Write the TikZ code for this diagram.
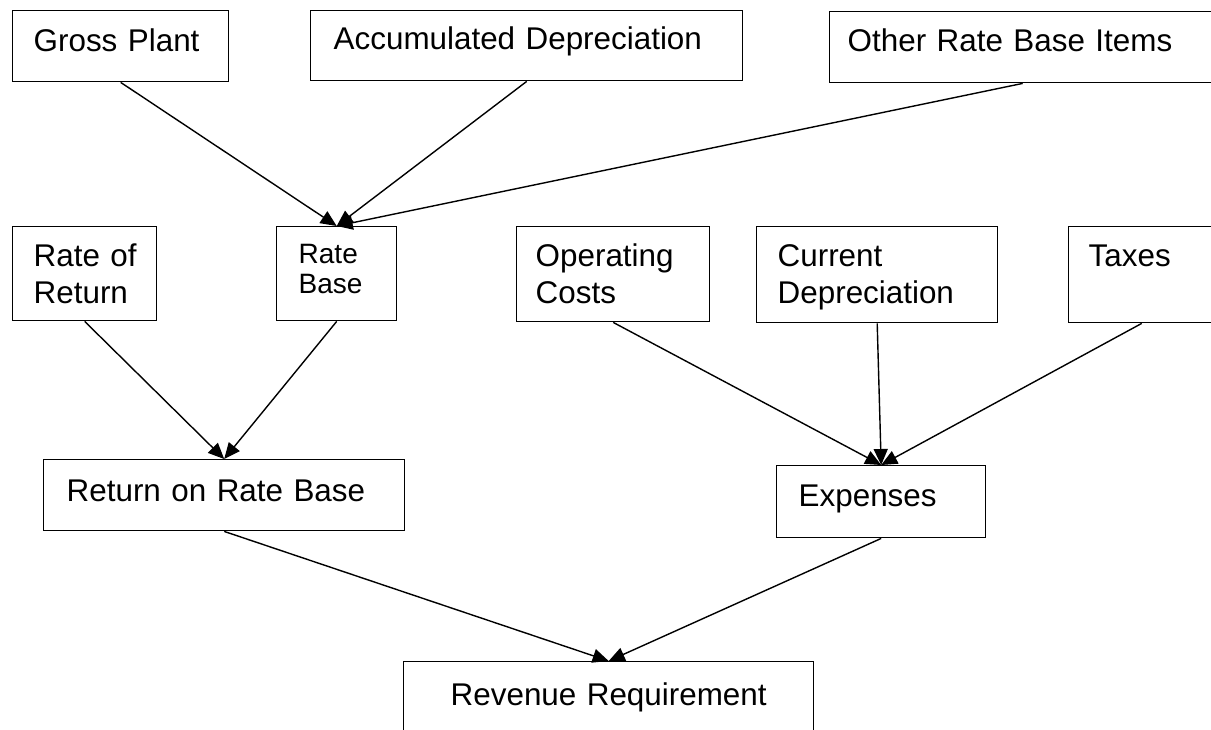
\documentclass[tikz,border=0pt]{standalone}
\usepackage{fontspec}
\setmainfont{Liberation Sans}
\usetikzlibrary{arrows.meta}

\begin{document}
\begin{tikzpicture}[
  x=1pt, y=-1pt,
  box/.style={
    draw,
    line width=1.4pt,
    anchor=north west,
    align=left,
    inner ysep=0pt,
    font=\fontsize{31.4}{37.5}\selectfont
  },
  small/.style={font=\fontsize{28}{30}\selectfont},
  line/.style={draw, line width=1.4pt, -{Triangle[length=16pt,width=14pt]}}
]
\clip (0,0) rectangle (1211,729);

\node[box, text width=174pt, inner xsep=21pt, text height=40.5pt, text depth=30.5pt] (gross) at (12,10) {Gross Plant};
\node[box, text width=386pt, inner xsep=23pt, text height=38.5pt, text depth=31.5pt] (accum) at (310,10) {Accumulated Depreciation};
\node[box, text width=350pt, inner xsep=18pt, text height=39.5pt, text depth=31.5pt] (other) at (829,11) {Other Rate Base Items};

\node[box, text width=102pt, inner xsep=21pt, text height=39.5pt, text depth=54.5pt] (ror) at (12,226) {Rate~of\\Return};
\node[box, small, text width=76pt, inner xsep=22pt, text height=37pt, text depth=57pt] (ratebase) at (276,226) {Rate\\Base};
\node[box, text width=155pt, inner xsep=19pt, text height=39.5pt, text depth=55.5pt] (opcost) at (516,226) {Operating\\Costs};
\node[box, text width=199pt, inner xsep=21pt, text height=39.5pt, text depth=56.5pt] (curdep) at (756,226) {Current\\Depreciation};
\node[box, text width=106pt, inner xsep=20pt, text height=39.5pt, text depth=56.5pt] (taxes) at (1068,226) {Taxes};

\node[box, text width=315pt, inner xsep=23pt, text height=41.5pt, text depth=29.5pt] (return) at (43,459) {Return on Rate Base};
\node[box, text width=165pt, inner xsep=22pt, text height=40.5pt, text depth=31.5pt] (expenses) at (776,465) {Expenses};

\node[box, align=center, text width=370pt, inner xsep=20pt, text height=43.5pt, text depth=56.5pt] (revenue) at (403,661) {Revenue Requirement};

\draw[line] (gross.south) -- (ratebase.north);
\draw[line] (accum.south) -- (ratebase.north);
\draw[line] (other.south) -- (ratebase.north);
\draw[line] (ror.south) -- (return.north);
\draw[line] (ratebase.south) -- (return.north);
\draw[line] (opcost.south) -- (expenses.north);
\draw[line] (curdep.south) -- (expenses.north);
\draw[line] (taxes.south) -- (expenses.north);
\draw[line] (return.south) -- (revenue.north);
\draw[line] (expenses.south) -- (revenue.north);
\end{tikzpicture}
\end{document}
